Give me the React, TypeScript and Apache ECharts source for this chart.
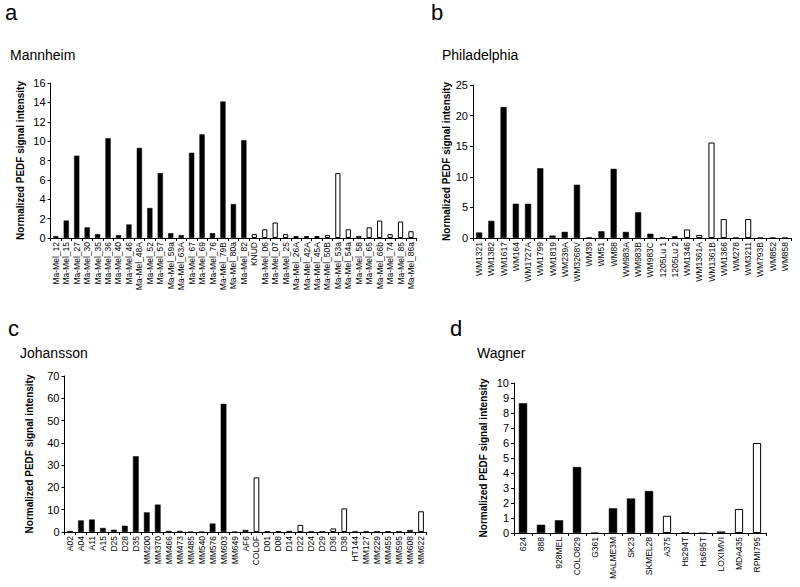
import React, { useEffect, useRef } from "react";
import * as echarts from "echarts";

const FONT = "'Liberation Sans', Arial, sans-serif";

// Panel a: Mannheim
const mannheimCats = ["Ma-Mel_12","Ma-Mel_15","Ma-Mel_27","Ma-Mel_30","Ma-Mel_35","Ma-Mel_36","Ma-Mel_40","Ma-Mel_46","Ma-Mel_48A","Ma-Mel_52","Ma-Mel_57","Ma-Mel_59a","Ma-Mel_63A","Ma-Mel_67","Ma-Mel_69","Ma-Mel_76","Ma-Mel_79B","Ma-Mel_80a","Ma-Mel_82","KNUD","Ma-Mel_06","Ma-Mel_07","Ma-Mel_25","Ma-Mel_26A","Ma-Mel_42A","Ma-Mel_45A","Ma-Mel_50B","Ma-Mel_53a","Ma-Mel_54a","Ma-Mel_58","Ma-Mel_65","Ma-Mel_66b","Ma-Mel_74","Ma-Mel_85","Ma-Mel_86a"];
const mannheimVals = [0.2,1.8,8.5,1.1,0.4,10.3,0.3,1.4,9.3,3.1,6.7,0.5,0.3,8.8,10.7,0.5,14.1,3.5,10.1,0.4,0.9,1.6,0.4,0.2,0.2,0.2,0.3,6.7,0.9,0.2,1.1,1.8,0.4,1.7,0.7];
const mannheimOpen = [0,0,0,0,0,0,0,0,0,0,0,0,0,0,0,0,0,0,0,1,1,1,1,1,1,1,1,1,1,0,1,1,1,1,1];

// Panel b: Philadelphia
const philaCats = ["WM1321","WM1382","WM1617","WM164","WM1727A","WM1799","WM1819","WM239A","WM3268V","WM39","WM51","WM88","WM983A","WM983B","WM983C","1205Lu 1","1205Lu 2","WM1346","WM1361A","WM1361B","WM1366","WM278","WM3211","WM793B","WM852","WM858"];
const philaVals = [0.9,2.8,21.4,5.6,5.6,11.4,0.4,1.0,8.7,0.1,1.1,11.3,1.0,4.2,0.7,0.1,0.3,1.4,0.5,15.6,3.1,0.1,3.1,0.1,0.1,0.1];
const philaOpen = [0,0,0,0,0,0,0,0,0,0,0,0,0,0,0,0,1,1,1,1,1,0,1,0,0,0];

// Panel c: Johansson
const johCats = ["A02","A04","A11","A15","D25","D28","D35","MM200","MM370","MM466","MM473","MM485","MM540","MM576","MM603","MM649","AF6","COLOF","D01","D08","D14","D22","D24","D29","D36","D38","HT144","MM127","MM229","MM455","MM595","MM608","MM622"];
const johVals = [0.5,5.2,5.6,1.8,1.0,2.8,34,8.8,12.3,0.5,0.5,0.2,0.1,3.8,57.5,0.2,0.9,24.5,0.2,0.2,0.5,3.2,0.4,0.1,1.6,10.6,0.4,0.4,0.1,0.2,0.1,0.9,9.3];
const johOpen = [0,0,0,0,0,0,0,0,0,0,0,0,0,0,0,0,0,1,1,1,0,1,0,1,1,1,0,0,1,1,1,0,1];

// Panel d: Wagner
const wagCats = ["624","888","928MEL","COLO829","G361","MALME3M","SK23","SKMEL28","A375","Hs294T","Hs695T","LOXIMVI","MDA435","RPMI795"];
const wagVals = [8.65,0.55,0.85,4.4,0.02,1.65,2.3,2.8,1.15,0.05,0,0.1,1.6,6.0];
const wagOpen = [0,0,0,0,0,0,0,0,1,0,0,0,1,1];

const yMax = [16, 25, 70, 10];
const yInt = [2, 5, 10, 1];

export default function App() {
  const ref = useRef<HTMLDivElement>(null);
  useEffect(() => {
    if (!ref.current) return;
    const chart = echarts.init(ref.current, undefined, { renderer: "svg" });
    const panels = [
      { cats: mannheimCats, vals: mannheimVals, open: mannheimOpen, grid: { left: 50.6, top: 83, width: 365.6, height: 155 }, gap: 25, gapCat: "50%" },
      { cats: philaCats, vals: philaVals, open: philaOpen, grid: { left: 473, top: 85, width: 318, height: 153 }, gap: 21, gapCat: "50%" },
      { cats: johCats, vals: johVals, open: johOpen, grid: { left: 64.5, top: 376, width: 362, height: 156 }, gap: 30, gapCat: "48%" },
      { cats: wagCats, vals: wagVals, open: wagOpen, grid: { left: 514, top: 383, width: 252, height: 150 }, gap: 26, gapCat: "54%" },
    ];
    const axisLine = { show: true, lineStyle: { color: "#000", width: 1 } };
    const option: any = {
      animation: false,
      backgroundColor: "#fff",
      textStyle: { fontFamily: FONT },
      title: [
        { text: "a", left: 5, top: 1, padding: 0, textStyle: { fontSize: 22, fontWeight: "normal", color: "#000", fontFamily: FONT } },
        { text: "b", left: 431, top: 1, padding: 0, textStyle: { fontSize: 22, fontWeight: "normal", color: "#000", fontFamily: FONT } },
        { text: "c", left: 8, top: 317, padding: 0, textStyle: { fontSize: 22, fontWeight: "normal", color: "#000", fontFamily: FONT } },
        { text: "d", left: 450, top: 317, padding: 0, textStyle: { fontSize: 22, fontWeight: "normal", color: "#000", fontFamily: FONT } },
        { text: "Mannheim", left: 10, top: 48, padding: 0, textStyle: { fontSize: 14, fontWeight: "normal", color: "#000", fontFamily: FONT } },
        { text: "Philadelphia", left: 442, top: 48, padding: 0, textStyle: { fontSize: 14, fontWeight: "normal", color: "#000", fontFamily: FONT } },
        { text: "Johansson", left: 20, top: 346, padding: 0, textStyle: { fontSize: 14, fontWeight: "normal", color: "#000", fontFamily: FONT } },
        { text: "Wagner", left: 477, top: 346, padding: 0, textStyle: { fontSize: 14, fontWeight: "normal", color: "#000", fontFamily: FONT } },
      ],
      grid: panels.map((p) => ({ ...p.grid, containLabel: false })),
      xAxis: panels.map((p, i) => ({
        type: "category",
        gridIndex: i,
        data: p.cats,
        axisLine,
        axisTick: { show: true, length: 3, interval: 0, lineStyle: { color: "#000" } },
        axisLabel: { interval: 0, rotate: 90, fontSize: 8.5, margin: 4, color: "#000", fontFamily: FONT },
        splitLine: { show: false },
      })),
      yAxis: panels.map((p, i) => ({
        type: "value",
        gridIndex: i,
        min: 0,
        max: yMax[i],
        interval: yInt[i],
        name: "Normalized PEDF signal intensity",
        nameLocation: "middle",
        nameGap: p.gap,
        nameTextStyle: { fontSize: 10, fontWeight: "bold", color: "#000", fontFamily: FONT },
        axisLine,
        axisTick: { show: true, length: 3, lineStyle: { color: "#000" } },
        axisLabel: { fontSize: 11, margin: 5, color: "#000", fontFamily: FONT },
        splitLine: { show: false },
      })),
      series: panels.map((p, i) => ({
        type: "bar",
        xAxisIndex: i,
        yAxisIndex: i,
        barCategoryGap: p.gapCat,
        data: p.vals.map((v, j) => ({
          value: v,
          itemStyle: p.open[j]
            ? { color: "#fff", borderColor: "#000", borderWidth: 1 }
            : { color: "#000", borderColor: "#000", borderWidth: 0.5 },
        })),
      })),
    };
    chart.setOption(option);
    return () => chart.dispose();
  }, []);
  return <div ref={ref} style={{ position: "absolute", left: 0, top: 0, width: 800, height: 587 }} />;
}
